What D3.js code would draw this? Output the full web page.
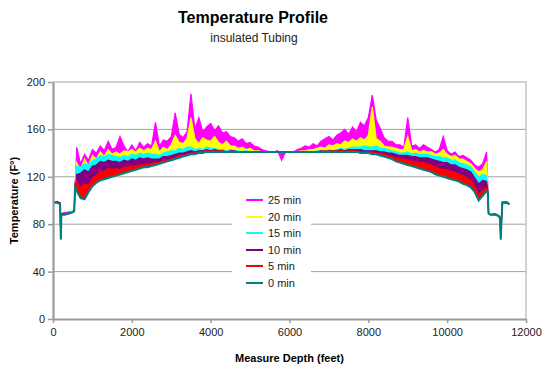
<!DOCTYPE html>
<html>
<head>
<meta charset="utf-8">
<script src="https://cdn.jsdelivr.net/npm/d3@7"></script>
<style>
  body { margin: 0; background: #fff; }
  text { font-family: "Liberation Sans", Arial, sans-serif; }
</style>
</head>
<body>
<div id="chart"></div>
<script>
"use strict";

// measured depth (feet)
var depths = [0, 100, 180, 190, 200, 210, 220, 300, 400, 500, 540, 560, 580,
    600, 700, 800, 900, 1000, 1100, 1200, 1300, 1400, 1500,
    1600, 1700, 1800, 1900, 2000, 2100, 2200, 2300, 2400, 2500,
    2600, 2700, 2800, 2900, 3000, 3100, 3200, 3300, 3400, 3500,
    3600, 3700, 3800, 3900, 4000, 4100, 4200, 4300, 4400, 4500,
    4600, 4700, 4800, 4900, 5000, 5100, 5200, 5300, 5400, 5500,
    5600, 5700, 5800, 5900, 6000, 6100, 6200, 6300, 6400, 6500,
    6600, 6700, 6800, 6900, 7000, 7100, 7200, 7300, 7400, 7500,
    7600, 7700, 7800, 7900, 8000, 8100, 8200, 8300, 8400, 8500,
    8600, 8700, 8800, 8900, 9000, 9100, 9200, 9300, 9400, 9500,
    9600, 9700, 9800, 9900, 10000, 10100, 10200, 10300, 10400, 10500,
    10600, 10700, 10800, 10900, 11000,
    11030, 11050, 11100, 11200, 11300, 11340, 11360, 11380, 11400, 11500, 11580];

// temperatures (F) per time step
var temp0 = [98, 98, 97, 80, 67, 85, 88, 88, 89, 90, 91, 112, 110,
    108, 102, 101, 107, 112, 115, 117, 118, 119, 120,
    121, 122, 123, 124, 125, 126, 127, 128, 128, 129,
    130, 131, 132, 133, 134, 135, 136, 137, 138, 139,
    139, 140, 140, 141, 141, 141, 141, 141, 141, 141,
    141, 141, 141, 141, 141, 141, 141, 141, 141, 141,
    141, 141, 141, 141, 141, 141, 141, 141, 141, 141,
    141, 141, 141, 141, 141, 141, 141, 141, 141, 141,
    141, 141, 140, 140, 140, 139, 139, 138, 137, 136,
    135, 133, 132, 131, 130, 129, 128, 127, 126, 125,
    124, 122, 121, 120, 119, 118, 117, 116, 114, 113,
    111, 107, 100, 104, 108,
    107, 89, 88, 88, 87, 85, 67, 84, 98, 98, 97];

var temp5 = [98, 99, 98, 81, 68, 86, 88, 89, 89, 90, 92, 113, 111,
    115, 111, 114, 113, 119, 121, 125, 124, 127, 126,
    127, 126, 128, 128, 129, 129, 130, 130, 131, 131,
    132, 132, 134, 134, 135, 136, 138, 138, 139, 140,
    140, 141, 141, 142, 141, 142, 141, 142, 141, 141,
    141, 141, 141, 141, 141, 141, 141, 141, 141, 141,
    141, 141, 141, 141, 141, 141, 141, 141, 141, 141,
    141, 141, 141, 142, 141, 142, 141, 142, 141, 142,
    142, 142, 141, 141, 141, 141, 140, 140, 139, 138,
    137, 136, 135, 135, 134, 133, 133, 132, 132, 131,
    130, 128, 127, 126, 126, 124, 124, 122, 121, 119,
    117, 112, 105, 109, 111,
    108, 89, 88, 88, 87, 86, 68, 85, 98, 98, 97];

var temp10 = [98, 99, 98, 81, 68, 86, 89, 89, 90, 90, 92, 114, 113,
    122, 123, 126, 124, 129, 130, 133, 132, 134, 133,
    133, 132, 134, 133, 135, 134, 136, 135, 136, 135,
    135, 135, 137, 137, 138, 139, 140, 140, 141, 142,
    141, 142, 142, 143, 142, 143, 142, 142, 141, 142,
    142, 141, 141, 141, 141, 141, 141, 141, 141, 141,
    141, 141, 141, 141, 141, 141, 141, 141, 141, 141,
    141, 141, 142, 141, 142, 142, 142, 143, 142, 143,
    143, 143, 143, 142, 142, 142, 142, 141, 141, 140,
    140, 139, 138, 138, 138, 137, 137, 136, 136, 136,
    135, 134, 133, 132, 132, 130, 130, 128, 127, 126,
    124, 119, 114, 117, 116,
    109, 89, 88, 89, 87, 86, 68, 85, 98, 99, 97];

var temp15 = [99, 99, 98, 81, 68, 86, 89, 89, 90, 91, 92, 114, 115,
    129, 128, 131, 130, 134, 135, 138, 137, 139, 138,
    137, 136, 138, 137, 139, 138, 140, 139, 140, 139,
    139, 138, 140, 141, 142, 142, 144, 143, 145, 145,
    143, 144, 143, 145, 144, 144, 143, 143, 142, 143,
    142, 142, 141, 142, 141, 141, 141, 141, 141, 141,
    141, 141, 141, 141, 141, 141, 141, 141, 141, 141,
    141, 142, 142, 142, 143, 142, 143, 144, 143, 144,
    145, 145, 145, 146, 145, 145, 146, 144, 144, 143,
    142, 141, 140, 140, 141, 139, 140, 139, 139, 139,
    138, 137, 137, 136, 136, 134, 134, 132, 131, 130,
    128, 124, 120, 122, 121,
    110, 89, 88, 89, 88, 86, 68, 85, 98, 99, 97];

var temp20 = [99, 99, 98, 81, 68, 86, 89, 89, 90, 91, 93, 115, 117,
    132, 126, 135, 129, 138, 135, 141, 137, 143, 139,
    141, 139, 142, 141, 143, 141, 144, 142, 144, 143,
    150, 141, 145, 143, 147, 155, 149, 148, 152, 170,
    152, 148, 153, 151, 150, 154, 149, 147, 150, 146,
    146, 144, 145, 143, 144, 142, 142, 141, 141, 141,
    141, 141, 141, 141, 141, 141, 141, 142, 142, 143,
    143, 144, 145, 144, 147, 146, 148, 147, 150, 149,
    152, 150, 153, 151, 155, 179, 152, 150, 146, 145,
    145, 144, 143, 143, 154, 142, 143, 141, 142, 141,
    141, 139, 140, 143, 139, 137, 138, 135, 135, 133,
    131, 127, 124, 126, 133,
    112, 90, 88, 89, 88, 86, 68, 85, 98, 99, 97];

var temp25 = [99, 99, 98, 81, 68, 86, 89, 90, 90, 91, 93, 116, 120,
    145, 131, 139, 134, 143, 140, 146, 142, 150, 143,
    145, 154, 146, 141, 147, 142, 149, 145, 148, 146,
    166, 146, 151, 150, 154, 174, 156, 153, 158, 190,
    160, 170, 158, 162, 165, 159, 163, 157, 158, 154,
    153, 150, 152, 148, 149, 146, 145, 143, 142, 141,
    141, 142, 134, 141, 141, 141, 143, 144, 146, 145,
    148, 146, 150, 152, 154, 151, 155, 157, 160, 156,
    162, 158, 166, 163, 170, 189, 168, 161, 153, 150,
    150, 147, 147, 145, 170, 146, 147, 144, 147, 145,
    143, 141, 143, 154, 142, 139, 141, 137, 138, 136,
    134, 130, 128, 131, 141,
    114, 90, 88, 89, 88, 86, 68, 85, 99, 99, 97];

var seriesNames = ["25 min", "20 min", "15 min", "10 min", "5 min", "0 min"];
var seriesValues = [temp25, temp20, temp15, temp10, temp5, temp0];
var seriesColors = ["#ff00ff", "#ffff00", "#00ffff", "#800080", "#ff0000", "#008080"];

var xTicks = [0, 2000, 4000, 6000, 8000, 10000, 12000];
var yTicks = [0, 40, 80, 120, 160, 200];

var chartTitle = "Temperature Profile";
var chartSubtitle = "insulated Tubing";
var xTitle = "Measure Depth (feet)";
var yTitle = "Temperature (F\u00b0)";

// dimensions
var W = 542, H = 368;
var margin = { top: 82, right: 16, bottom: 49, left: 53 };

var svg = d3.select("#chart")
    .append("svg")
    .attr("width", W)
    .attr("height", H)
    .style("display", "block");

svg.append("rect").attr("width", W).attr("height", H).attr("fill", "#fff");

// scales
var x = d3.scaleLinear()
    .domain([0, 12000])
    .range([margin.left, W - margin.right]);

var y = d3.scaleLinear()
    .domain([0, 200])
    .range([H - margin.bottom, margin.top]);

// gridlines
svg.append("g")
    .selectAll("line")
    .data(yTicks.filter(t => t > 0 && t < 200))
    .join("line")
    .attr("x1", x(0))
    .attr("x2", x(12000))
    .attr("y1", d => y(d))
    .attr("y2", d => y(d))
    .attr("stroke", "#a3a3a3")
    .attr("stroke-width", 1);

// top + right border of plot
svg.append("path")
    .attr("d", `M${x(0)},${y(200)}H${x(12000)}V${y(0)}`)
    .attr("fill", "none")
    .attr("stroke", "#c4c4c4")
    .attr("stroke-width", 1.5);

// the traces are so dense in the original that each one reads as a band
// down to the 0 min trace, so fill that band and stroke the trace on top
var area = d3.area()
    .x((d, i) => x(depths[i]))
    .y0((d, i) => y(temp0[i]))
    .y1(d => y(d));

var line = d3.line()
    .x((d, i) => x(depths[i]))
    .y(d => y(d));

// 25 min drawn first so 0 min ends on top
var traces = svg.append("g")
    .selectAll("g")
    .data(seriesValues)
    .join("g");

traces.append("path")
    .attr("fill", (d, i) => seriesColors[i])
    .attr("stroke", "none")
    .attr("d", area);

traces.append("path")
    .attr("fill", "none")
    .attr("stroke", (d, i) => seriesColors[i])
    .attr("stroke-width", (d, i) => i === 5 ? 2 : 1.2)
    .attr("d", line);

// axes
var xAxis = svg.append("g")
    .attr("transform", `translate(0,${y(0)})`)
    .call(d3.axisBottom(x).tickValues(xTicks).tickSize(4).tickSizeOuter(0).tickPadding(5).tickFormat(d3.format("d")));

var yAxis = svg.append("g")
    .attr("transform", `translate(${x(0)},0)`)
    .call(d3.axisLeft(y).tickValues(yTicks).tickSize(5).tickSizeOuter(0).tickPadding(3));

[xAxis, yAxis].forEach(g => {
    g.select(".domain").attr("stroke", "#9a9a9a").attr("stroke-width", 2.2);
    g.selectAll(".tick line").attr("stroke", "#9a9a9a").attr("stroke-width", 1.5);
    g.selectAll(".tick text")
        .attr("fill", "#222")
        .style("font-family", "'Liberation Sans', Arial, sans-serif")
        .style("font-size", "11px");
});

// titles
svg.append("text")
    .attr("x", 253)
    .attr("y", 23)
    .attr("text-anchor", "middle")
    .style("font-size", "16px")
    .style("font-weight", "bold")
    .text(chartTitle);

svg.append("text")
    .attr("x", 254)
    .attr("y", 42)
    .attr("text-anchor", "middle")
    .style("font-size", "12px")
    .attr("fill", "#222")
    .text(chartSubtitle);

svg.append("text")
    .attr("x", (x(0) + x(12000)) / 2)
    .attr("y", 362)
    .attr("text-anchor", "middle")
    .style("font-size", "11px")
    .style("font-weight", "bold")
    .text(xTitle);

svg.append("text")
    .attr("transform", `translate(18,${(y(0) + y(200)) / 2}) rotate(-90)`)
    .attr("text-anchor", "middle")
    .style("font-size", "11px")
    .style("font-weight", "bold")
    .text(yTitle);

// legend
var legend = svg.append("g").attr("transform", "translate(232,191)");

legend.append("rect")
    .attr("width", 79)
    .attr("height", 100)
    .attr("fill", "#fff");

var items = legend.selectAll("g.item")
    .data(seriesNames)
    .join("g")
    .attr("class", "item")
    .attr("transform", (d, i) => `translate(0,${Math.round(9 + i * 16.5)})`);

items.append("line")
    .attr("x1", 14)
    .attr("x2", 31)
    .attr("stroke", (d, i) => seriesColors[i])
    .attr("stroke-width", 2);

items.append("text")
    .attr("x", 36)
    .attr("dy", "0.35em")
    .style("font-size", "11px")
    .attr("fill", "#222")
    .text(d => d);
</script>
</body>
</html>
